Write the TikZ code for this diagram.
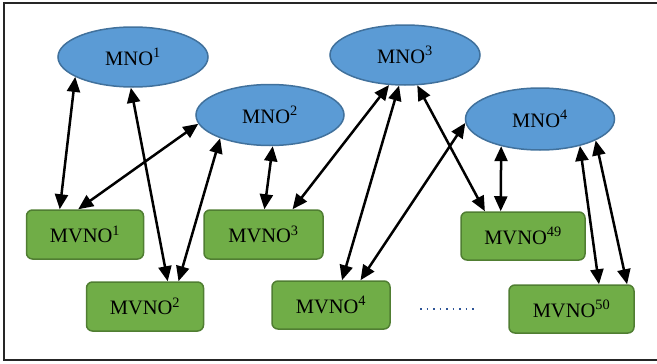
\documentclass[tikz,border=0pt]{standalone}
\usepackage{fontspec}
\setmainfont{Liberation Serif}
\usetikzlibrary{arrows.meta,shapes.geometric}
\definecolor{mnofill}{HTML}{5B9BD5}
\definecolor{mnoline}{HTML}{41719C}
\definecolor{mvnofill}{HTML}{70AD47}
\definecolor{mvnoline}{HTML}{507E32}
\definecolor{dotblue}{HTML}{2F5597}
\begin{document}
\begin{tikzpicture}[x=1pt,y=-1pt,
  mno/.style={ellipse,draw=mnoline,fill=mnofill,line width=1.5pt,inner sep=0pt,
    minimum width=150pt,minimum height=60pt,font=\fontsize{20.5}{23}\selectfont},
  mvno/.style={rectangle,rounded corners=6pt,draw=mvnoline,fill=mvnofill,line width=1.5pt,inner sep=0pt,
    minimum width=118pt,minimum height=48pt,font=\fontsize{20.5}{23}\selectfont},
  link/.style={line width=2.5pt,{Triangle[length=15pt,width=13pt]}-{Triangle[length=15pt,width=13pt]}}]
\useasboundingbox (0,0) rectangle (657,364);
\draw[line width=2pt,draw=black!85] (4,3) rectangle (660,360);
% MNOs
\node[mno] (mno1) at (133,57) {MNO\textsuperscript{1}};
\node[mno,minimum width=148pt,minimum height=61pt] (mno2) at (270,115) {MNO\textsuperscript{2}};
\node[mno] (mno3) at (405,55) {MNO\textsuperscript{3}};
\node[mno,minimum width=149pt,minimum height=62pt] (mno4) at (540,119) {MNO\textsuperscript{4}};
% MVNOs
\node[mvno,minimum width=117pt,minimum height=49pt] (mvno1) at (85,234.5) {MVNO\textsuperscript{1}};
\node[mvno,minimum width=117pt,minimum height=49pt] (mvno2) at (145,306.5) {MVNO\textsuperscript{2}};
\node[mvno,minimum width=119pt,minimum height=49pt] (mvno3) at (263.5,234.5) {MVNO\textsuperscript{3}};
\node[mvno] (mvno4) at (331,305) {MVNO\textsuperscript{4}};
\node[mvno,minimum width=124pt] (mvno49) at (523,236) {MVNO\textsuperscript{49}};
\node[mvno,minimum width=125pt] (mvno50) at (571.5,309) {MVNO\textsuperscript{50}};
% dots
\draw[dotblue,line width=1.6pt,dash pattern=on 1.6pt off 4.9pt] (420,309) -- (475,309);
% links
\draw[link] (mno1.199) -- (mvno1.135.5);
\draw[link] (mno1.266) -- (mvno2.48.9);
\draw[link] (mno2.187.7) -- (mvno1.105.4);
\draw[link] (mno2.205.1) -- (mvno2.37.6);
\draw[link] (mno2.275.5) -- (mvno3.88.9);
\draw[link] (mno3.242.7) -- (mvno3.41.9);
\draw[link] (mno3.259.4) -- (mvno4.66.9);
\draw[link] (mno3.292.1) -- (mvno49.147.9);
\draw[link] (mno4.183) -- (mvno4.40.7);
\draw[link] (mno4.215.4) -- (mvno49.132.7);
\draw[link] (mno4.326) -- (mvno50.42.6);
\draw[link] (mno4.339) -- (mvno50.24);
\end{tikzpicture}
\end{document}
